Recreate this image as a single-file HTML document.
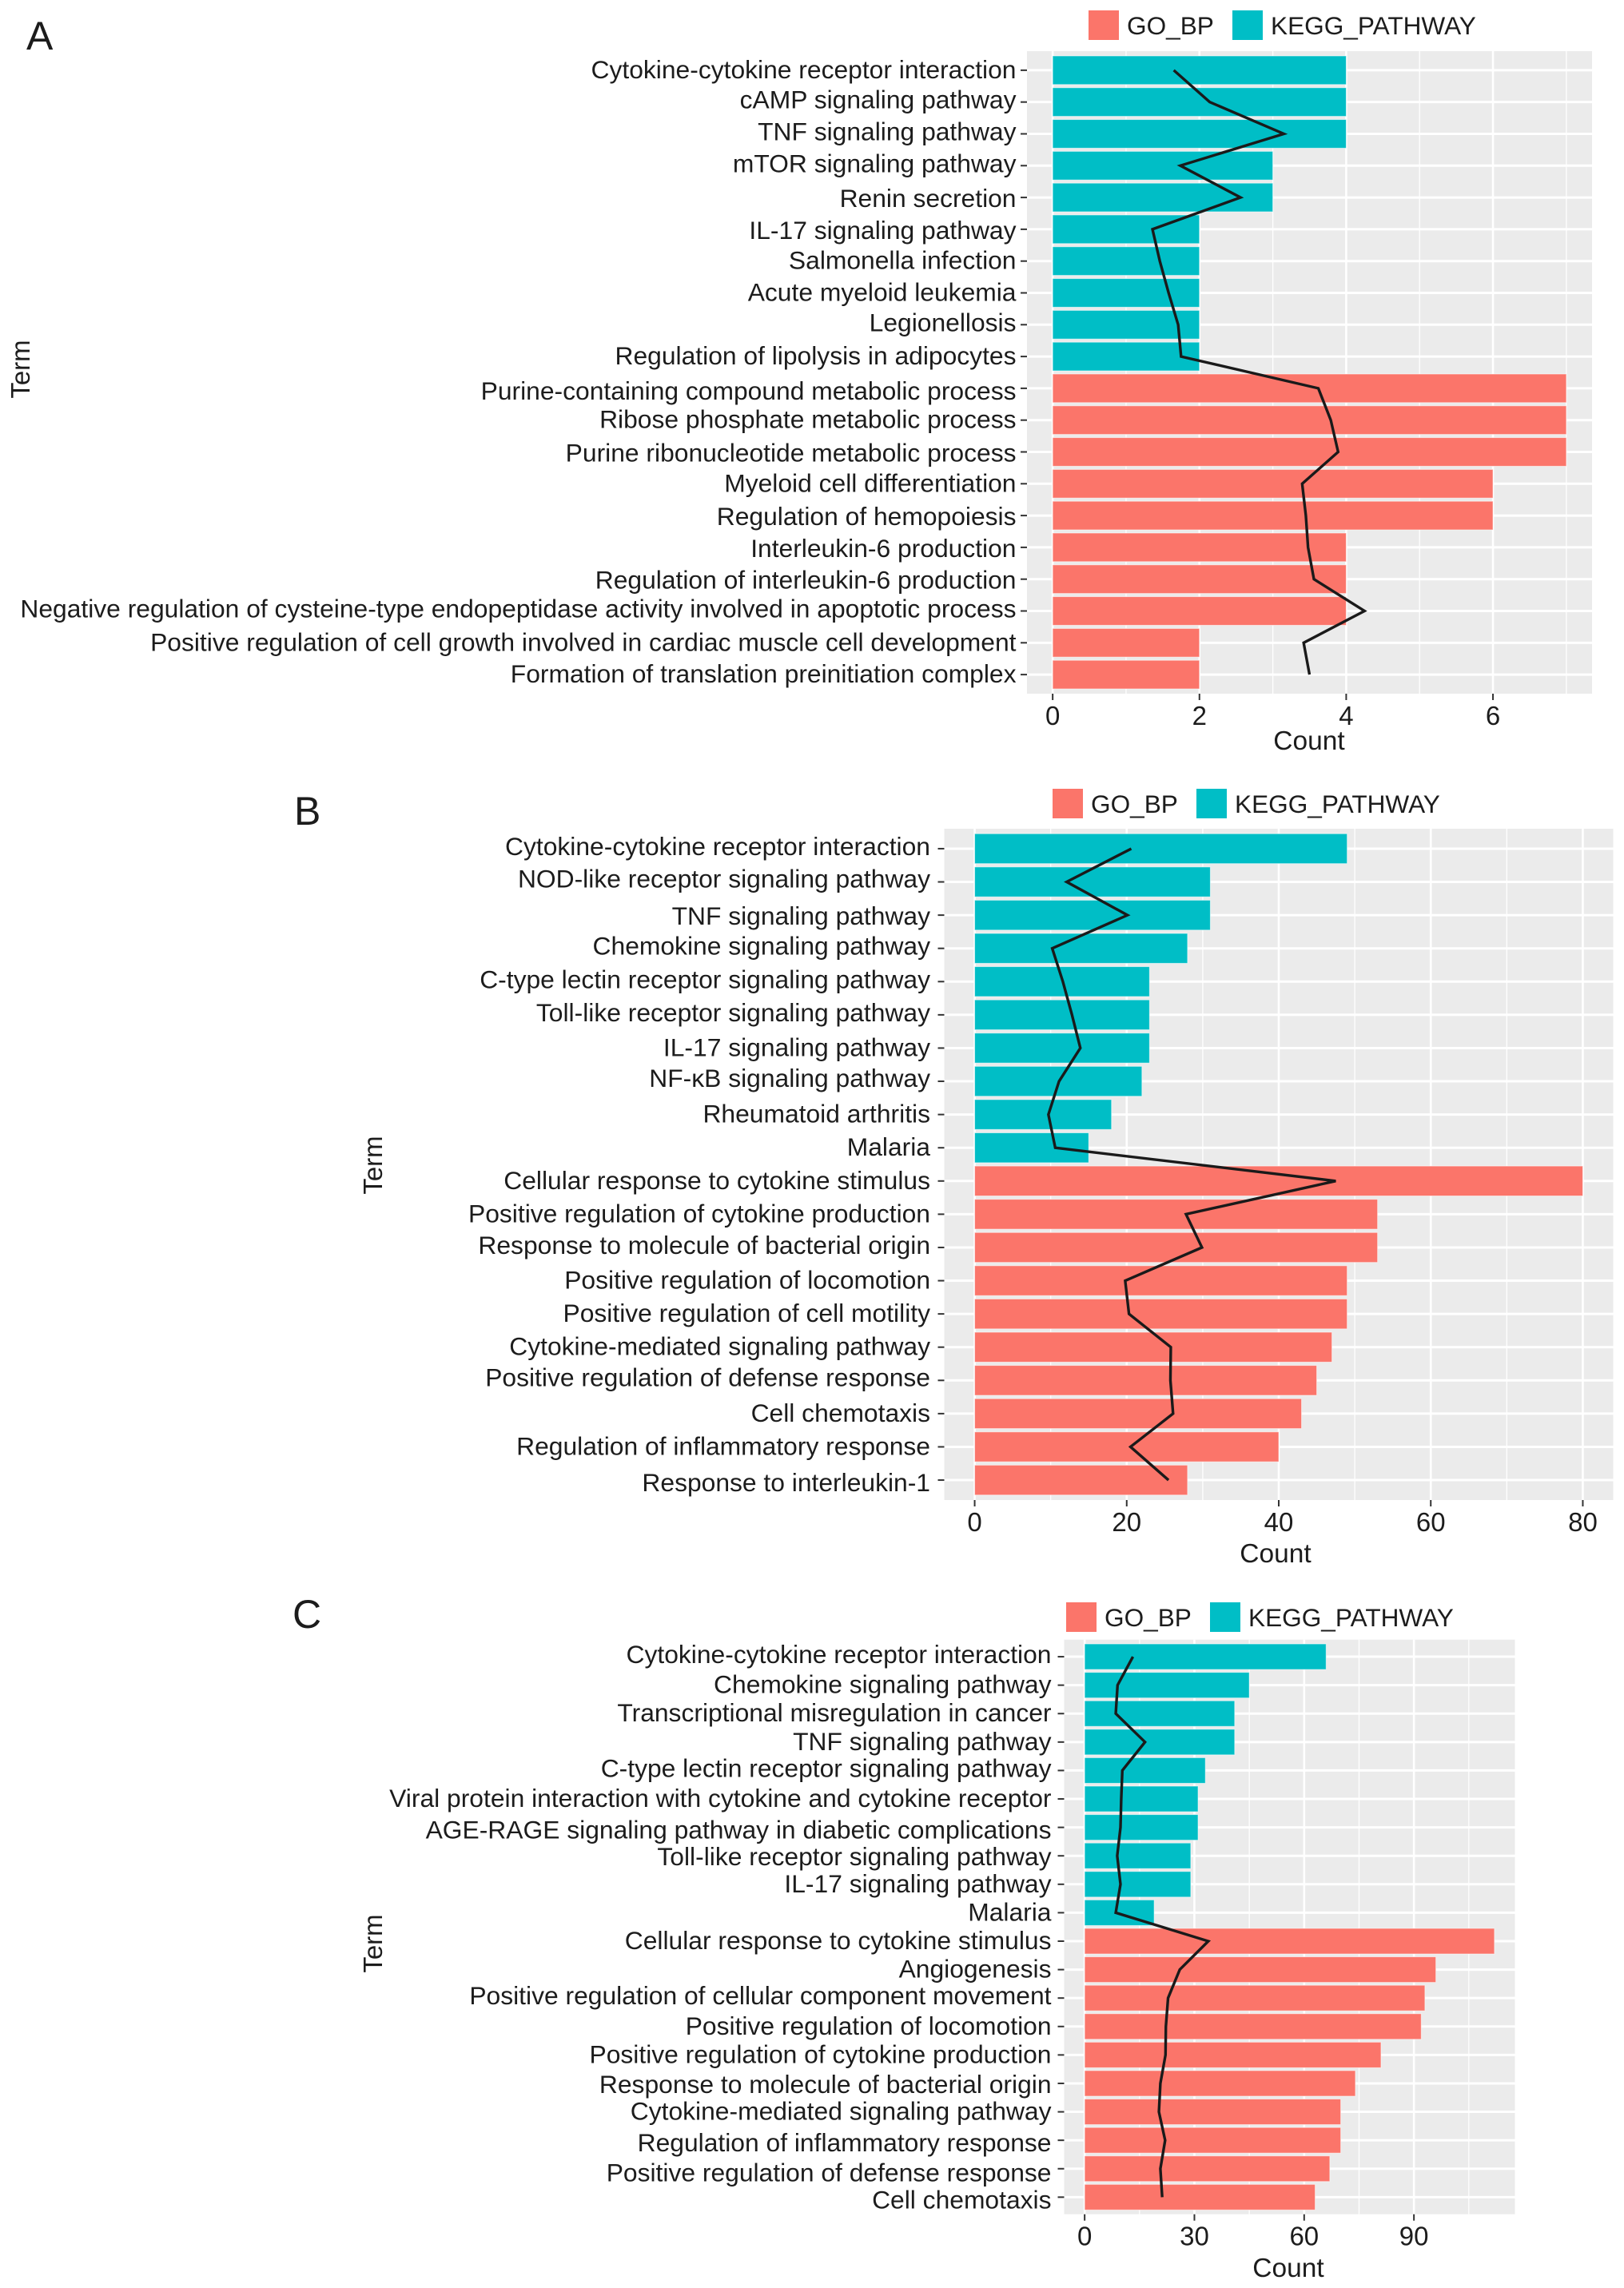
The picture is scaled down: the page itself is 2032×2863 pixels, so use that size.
<!DOCTYPE html>
<html lang="en">
<head>
<meta charset="utf-8">
<title>Enrichment bar charts</title>
<style>
html,body{margin:0;padding:0;background:#fff;}
svg{display:block;font-family:"Liberation Sans",Arial,sans-serif;}
text{fill:#1c1c1c;}
</style>
</head>
<body>
<svg id="figure" xmlns="http://www.w3.org/2000/svg" width="2032" height="2863" viewBox="0 0 2032 2863">
  <rect x="0" y="0" width="2032" height="2863" fill="#ffffff"/>

  <text x="33" y="62" font-size="50">A</text>
  <rect x="1362" y="13" width="38" height="37" fill="#FB756A"/>
  <text x="1410" y="43" font-size="31.6">GO_BP</text>
  <rect x="1542" y="13" width="38" height="37" fill="#00BEC6"/>
  <text x="1590" y="43" font-size="31.6">KEGG_PATHWAY</text>
  <text transform="translate(37 462) rotate(-90)" text-anchor="middle" font-size="33">Term</text>
  <text x="1638" y="938" text-anchor="middle" font-size="33.5">Count</text>

  <text x="368" y="1032" font-size="50">B</text>
  <rect x="1317" y="987" width="38" height="37" fill="#FB756A"/>
  <text x="1365" y="1017" font-size="31.6">GO_BP</text>
  <rect x="1497" y="987" width="38" height="37" fill="#00BEC6"/>
  <text x="1545" y="1017" font-size="31.6">KEGG_PATHWAY</text>
  <text transform="translate(478 1458) rotate(-90)" text-anchor="middle" font-size="33">Term</text>
  <text x="1596" y="1955" text-anchor="middle" font-size="33.5">Count</text>

  <text x="366" y="2037" font-size="50">C</text>
  <rect x="1334" y="2005" width="38" height="37" fill="#FB756A"/>
  <text x="1382" y="2035" font-size="31.6">GO_BP</text>
  <rect x="1514" y="2005" width="38" height="37" fill="#00BEC6"/>
  <text x="1562" y="2035" font-size="31.6">KEGG_PATHWAY</text>
  <text transform="translate(478 2432) rotate(-90)" text-anchor="middle" font-size="33">Term</text>
  <text x="1612" y="2849" text-anchor="middle" font-size="33.5">Count</text>
</svg>

<script>
// ---- chart data ----
const termGroups = ["KEGG_PATHWAY","KEGG_PATHWAY","KEGG_PATHWAY","KEGG_PATHWAY","KEGG_PATHWAY","KEGG_PATHWAY","KEGG_PATHWAY","KEGG_PATHWAY","KEGG_PATHWAY","KEGG_PATHWAY","GO_BP","GO_BP","GO_BP","GO_BP","GO_BP","GO_BP","GO_BP","GO_BP","GO_BP","GO_BP"];

const panelACategories = ["Cytokine-cytokine receptor interaction","cAMP signaling pathway","TNF signaling pathway","mTOR signaling pathway","Renin secretion","IL-17 signaling pathway","Salmonella infection","Acute myeloid leukemia","Legionellosis","Regulation of lipolysis in adipocytes","Purine-containing compound metabolic process","Ribose phosphate metabolic process","Purine ribonucleotide metabolic process","Myeloid cell differentiation","Regulation of hemopoiesis","Interleukin-6 production","Regulation of interleukin-6 production","Negative regulation of cysteine-type endopeptidase activity involved in apoptotic process","Positive regulation of cell growth involved in cardiac muscle cell development","Formation of translation preinitiation complex"];
const panelACounts = [4,4,4,3,3,2,2,2,2,2,7,7,7,6,6,4,4,4,2,2];
const panelALine = [1.65,2.14,3.15,1.74,2.56,1.36,1.46,1.58,1.71,1.75,3.62,3.79,3.89,3.40,3.45,3.48,3.56,4.25,3.42,3.50];
const panelATicks = [0,2,4,6];
const panelAMinorTicks = [1,3,5,7];

const panelBCategories = ["Cytokine-cytokine receptor interaction","NOD-like receptor signaling pathway","TNF signaling pathway","Chemokine signaling pathway","C-type lectin receptor signaling pathway","Toll-like receptor signaling pathway","IL-17 signaling pathway","NF-κB signaling pathway","Rheumatoid arthritis","Malaria","Cellular response to cytokine stimulus","Positive regulation of cytokine production","Response to molecule of bacterial origin","Positive regulation of locomotion","Positive regulation of cell motility","Cytokine-mediated signaling pathway","Positive regulation of defense response","Cell chemotaxis","Regulation of inflammatory response","Response to interleukin-1"];
const panelBCounts = [49,31,31,28,23,23,23,22,18,15,80,53,53,49,49,47,45,43,40,28];
const panelBLine = [20.6,12.1,20.1,10.2,11.6,12.8,13.9,11.1,9.7,10.6,47.5,27.8,29.9,19.8,20.3,25.8,25.75,26.1,20.5,25.5];
const panelBTicks = [0,20,40,60,80];
const panelBMinorTicks = [10,30,50,70];

const panelCCategories = ["Cytokine-cytokine receptor interaction","Chemokine signaling pathway","Transcriptional misregulation in cancer","TNF signaling pathway","C-type lectin receptor signaling pathway","Viral protein interaction with cytokine and cytokine receptor","AGE-RAGE signaling pathway in diabetic complications","Toll-like receptor signaling pathway","IL-17 signaling pathway","Malaria","Cellular response to cytokine stimulus","Angiogenesis","Positive regulation of cellular component movement","Positive regulation of locomotion","Positive regulation of cytokine production","Response to molecule of bacterial origin","Cytokine-mediated signaling pathway","Regulation of inflammatory response","Positive regulation of defense response","Cell chemotaxis"];
const panelCCounts = [66,45,41,41,33,31,31,29,29,19,112,96,93,92,81,74,70,70,67,63];
const panelCLine = [13.2,9.0,8.5,16.5,10.3,10.0,9.8,8.9,9.8,8.5,33.8,26.0,22.8,22.2,22.1,20.7,20.3,22.0,20.7,21.2];
const panelCTicks = [0,30,60,90];
const panelCMinorTicks = [15,45,75,105];

// ---- drawing ----
const NS = 'http://www.w3.org/2000/svg';
const figure = document.getElementById('figure');
const groupColor = {KEGG_PATHWAY:'#00BEC6',GO_BP:'#FB756A'};

function make(tag, attrs, parent) {
  const node = document.createElementNS(NS, tag);
  for (const k in attrs) node.setAttribute(k, attrs[k]);
  parent.appendChild(node);
  return node;
}

function drawPanel(id, box, domain, categories, counts, lineValues, ticks, minorTicks) {
  const xScale = v => box.left + (v - domain[0]) / (domain[1] - domain[0]) * (box.right - box.left);
  const band = (box.bottom - box.top) / (categories.length + 0.2);
  const yScale = i => box.top + (i + 0.6) * band;

  const group = make('g', {}, figure);
  
  

  const bg = make('rect', {x:box.left, y:box.top, width:box.right-box.left, height:box.bottom-box.top, fill:'#EBEBEB'}, group);
  
  

  minorTicks.forEach(t => {
    const el = make('line', {x1:xScale(t), x2:xScale(t), y1:box.top, y2:box.bottom, stroke:'#ffffff', 'stroke-width':1.3}, group);
    
    
  });
  ticks.forEach(t => {
    const el = make('line', {x1:xScale(t), x2:xScale(t), y1:box.top, y2:box.bottom, stroke:'#ffffff', 'stroke-width':2.6}, group);
    
    
  });
  categories.forEach((c, i) => {
    const el = make('line', {x1:box.left, x2:box.right, y1:yScale(i), y2:yScale(i), stroke:'#ffffff', 'stroke-width':3}, group);
    
    
  });

  counts.forEach((v, i) => {
    const h = band * 0.9;
    const el = make('rect', {x:xScale(0), y:yScale(i)-h/2, width:xScale(v)-xScale(0), height:h, fill:groupColor[termGroups[i]], stroke:'#ffffff', 'stroke-opacity':0.55, 'stroke-width':1}, group);
    
    
  });

  const line = make('polyline', {points:lineValues.map((v, i) => xScale(v) + ',' + yScale(i)).join(' '), fill:'none', stroke:'#1a1a1a', 'stroke-width':3.4, 'stroke-linejoin':'miter'}, group);
  
  

  categories.forEach((c, i) => {
    const mark = make('line', {x1:box.left-8, x2:box.left, y1:yScale(i), y2:yScale(i), stroke:'#333333', 'stroke-width':2}, group);
    
    
    const label = make('text', {x:box.left-box.labelGap, y:yScale(i)+12+box.labelNudge[i], 'text-anchor':'end', 'font-size':box.labelSize}, group);
    label.textContent = c;
    
    
  });

  ticks.forEach(t => {
    const mark = make('line', {x1:xScale(t), x2:xScale(t), y1:box.bottom, y2:box.bottom+8, stroke:'#333333', 'stroke-width':2}, group);
    
    
    const label = make('text', {x:xScale(t), y:box.bottom+39, 'text-anchor':'middle', 'font-size':33}, group);
    label.textContent = String(t);
    
    
  });
}

drawPanel('panel-a', {left:1285, right:1992, top:64, bottom:868, labelGap:13.5, labelSize:31.8, labelNudge:[-2,-4,-4,-4,0,0,-2,-2,-4,-2,2,-2,0,-2,0,0,0,-4,-2,-2]}, [-0.35,7.35], panelACategories, panelACounts, panelALine, panelATicks, panelAMinorTicks);
drawPanel('panel-b', {left:1181.5, right:2018.5, top:1037, bottom:1877, labelGap:17.5, labelSize:31.8, labelNudge:[-4,-5,0,-4,-4,-4,-2,-5,-2,-2,-2,-2,-4,-2,-2,-2,-5,-2,-2,2]}, [-4,84], panelBCategories, panelBCounts, panelBLine, panelBTicks, panelBMinorTicks);
drawPanel('panel-c', {left:1331.5, right:1895.5, top:2051.7, bottom:2770.7, labelGap:16, labelSize:31.8, labelNudge:[-4,-2,-2,-2,-4,-2,2,0,-2,-2,-2,-2,-4,-2,-2,0,-2,2,4,2]}, [-5.6,117.6], panelCCategories, panelCCounts, panelCLine, panelCTicks, panelCMinorTicks);
</script>
</body>
</html>
